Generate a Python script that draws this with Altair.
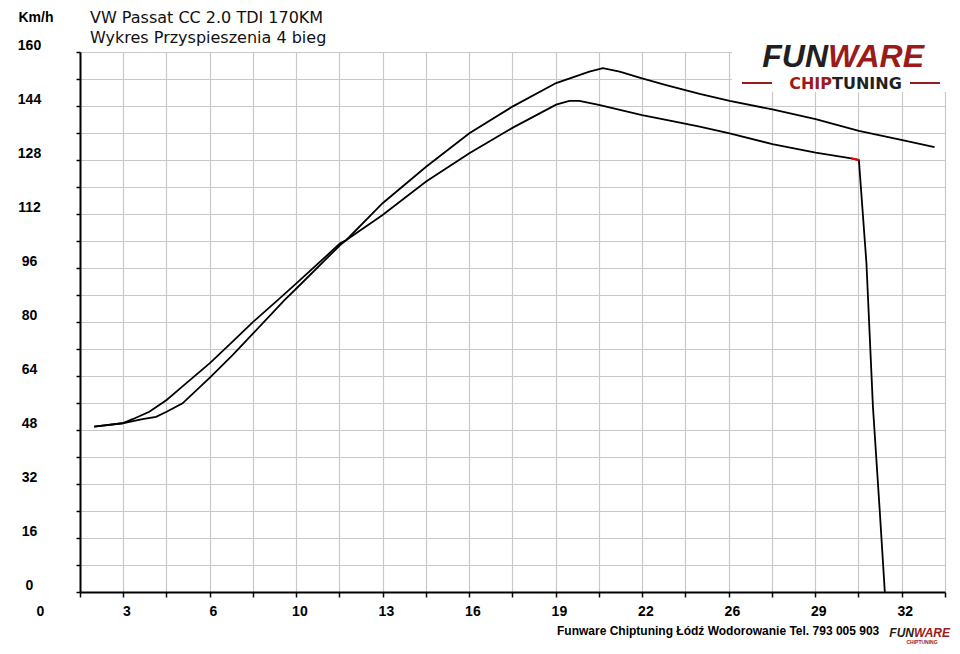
import altair as alt
import pandas as pd

# ---------------- data ----------------
# Curve A: quicker start, lower peak, ends with a drop to 0
t_a = [1.99, 3.04, 3.41, 4.03, 4.67, 5.14, 6.28, 7.11, 7.88, 8.78, 9.48, 11.09, 11.32, 12.66,
       14.27, 15.87, 17.48, 19.08, 19.57, 19.94, 20.66, 22.26, 23.15, 24.39, 25.50,
       27.08, 28.68, 30.00, 30.28, 30.56, 30.80, 31.05, 31.24]
v_a = [49.0, 50.0, 51.2, 53.4, 56.9, 60.1, 67.9, 74.2, 80.1, 86.5, 91.5, 103.3, 104.3, 111.7,
       121.6, 130.0, 137.6, 144.4, 145.5, 145.5, 144.3, 141.3, 139.9, 137.9, 135.9,
       132.7, 130.2, 128.5, 128.0, 97.4, 54.9, 24.3, 0.0]

# Curve B: slower start, higher peak
t_b = [1.99, 3.04, 3.78, 4.28, 4.67, 5.26, 6.28, 7.11, 7.88, 9.03, 9.48, 11.09, 11.32, 12.66,
       14.27, 15.87, 17.48, 19.08, 20.31, 20.81, 21.43, 22.26, 23.15, 24.39, 25.50,
       27.08, 28.68, 30.28, 31.89, 33.08]
v_b = [49.0, 50.0, 51.2, 51.9, 53.4, 55.9, 63.6, 70.2, 76.7, 86.5, 90.0, 102.8, 104.3, 115.2,
       126.0, 135.9, 143.9, 150.8, 154.2, 155.2, 154.2, 152.2, 150.2, 147.6, 145.5,
       143.0, 140.1, 136.6, 133.9, 131.8]

# short red segment at the end of curve A
t_red = [30.00, 30.28]
v_red = [128.5, 128.0]

y_ticks = [0, 8, 16, 24, 32, 40, 48, 56, 64, 72, 80, 88, 96, 104, 112, 120, 128, 136, 144, 152, 160]
x_grid = [1.466, 3.066, 4.666, 6.266, 7.866, 9.466, 11.066, 12.666, 14.266, 15.866, 17.466,
          19.066, 20.666, 22.266, 23.866, 25.466, 27.066, 28.666, 30.266, 31.866, 33.466]
x_label_pos = [0, 3.2, 6.4, 9.6, 12.8, 16.0, 19.2, 22.4, 25.6, 28.8, 32.0]
x_label_text = ["0", "3", "6", "10", "13", "16", "19", "22", "26", "29", "32"]

title_lines = ["VW Passat CC 2.0 TDI 170KM", "Wykres Przyspieszenia 4 bieg"]
y_unit = "Km/h"
footer = "Funware Chiptuning Łódź Wodorowanie Tel. 793 005 903"

# ---------------- chart ----------------
W, H = 865, 540
xscale = alt.Scale(domain=[1.466, 33.4661], nice=False, zero=False)
yscale = alt.Scale(domain=[0, 160], nice=False, zero=True)
GRID = "#c8c8c8"
LOGO_RED = "#9b1b1b"
LOGO_DARK = "#231f20"
LABEL_FONT = "Liberation Sans"

xaxis = alt.Axis(
    values=x_grid, labels=False, title=None, grid=True, gridColor=GRID, gridWidth=1.2,
    ticks=True, tickSize=5, tickColor="black", tickWidth=1.5,
    domainColor="black", domainWidth=2)
yaxis = alt.Axis(
    values=y_ticks, title=None, grid=True, gridColor=GRID, gridWidth=1.2,
    labelExpr="datum.value % 16 == 0 ? datum.label : ''",
    labelFont=LABEL_FONT, labelFontSize=14, labelFontWeight="bold", labelColor="black",
    labelAlign="center", labelBaseline="middle", labelPadding=47, labelOffset=-7,
    labelOverlap=False, labelFlush=False,
    ticks=True, tickSize=4, tickColor="black", tickWidth=1.5,
    domainColor="black", domainWidth=2)

df_lines = pd.concat([
    pd.DataFrame({"t": t_a, "v": v_a, "series": "A"}),
    pd.DataFrame({"t": t_b, "v": v_b, "series": "B"}),
])
df_red = pd.DataFrame({"t": t_red, "v": v_red})
df_xl = pd.DataFrame({"t": x_label_pos, "label": x_label_text})
one = pd.DataFrame({"k": [0]})

lines = alt.Chart(df_lines).mark_line(color="black", strokeWidth=1.8).encode(
    x=alt.X("t:Q", scale=xscale, axis=xaxis),
    y=alt.Y("v:Q", scale=yscale, axis=yaxis),
    detail="series:N",
)

red = alt.Chart(df_red).mark_line(color="#ff0000", strokeWidth=2).encode(
    x=alt.X("t:Q", scale=xscale, axis=xaxis),
    y=alt.Y("v:Q", scale=yscale, axis=yaxis),
)

xlabels = alt.Chart(df_xl).mark_text(
    font=LABEL_FONT, fontSize=14, fontWeight="bold", color="black",
    align="center", baseline="middle",
).encode(
    x=alt.X("t:Q", scale=xscale, axis=xaxis),
    y=alt.value(560),
    text="label:N",
)

logo_bg = alt.Chart(one).mark_rect(color="white").encode(
    x=alt.value(652), x2=alt.value(872), y=alt.value(-52), y2=alt.value(40)
)


def txt(s, x, y, size, color="black", weight="normal", font=LABEL_FONT,
        align="left", baseline="middle", style="normal"):
    return alt.Chart(one).mark_text(
        text=s, font=font, fontSize=size, fontWeight=weight, color=color,
        align=align, baseline=baseline, fontStyle=style,
    ).encode(x=alt.value(x), y=alt.value(y))


def rule(x1, x2, y, color, w):
    return alt.Chart(one).mark_rule(color=color, strokeWidth=w).encode(
        x=alt.value(x1), x2=alt.value(x2), y=alt.value(y))


texts = [
    txt(title_lines[0], 10, -34, 16, color="#111111", font="DejaVu Sans"),
    txt(title_lines[1], 10, -14.5, 16, color="#111111", font="DejaVu Sans"),
    txt(y_unit, -44, -34, 14, weight="bold", align="center"),
    # logo top right
    txt("FUN", 748, 14.5, 32, color=LOGO_DARK, weight="bold", style="italic",
        align="right", baseline="alphabetic"),
    txt("WARE", 748, 14.5, 32, color=LOGO_RED, weight="bold", style="italic",
        align="left", baseline="alphabetic"),
    txt("CHIP", 752, 36.5, 16, color=LOGO_RED, weight="bold", font="DejaVu Sans",
        align="right", baseline="alphabetic"),
    txt("TUNING", 752, 36.5, 16, color=LOGO_DARK, weight="bold", font="DejaVu Sans",
        align="left", baseline="alphabetic"),
    rule(662, 692, 31, LOGO_RED, 2),
    rule(830, 860, 31, LOGO_RED, 2),
    # footer
    txt(footer, 477, 579, 12, weight="bold"),
    txt("FUN", 834, 585, 12, color=LOGO_DARK, weight="bold", style="italic",
        align="right", baseline="alphabetic"),
    txt("WARE", 834, 585, 12, color=LOGO_RED, weight="bold", style="italic",
        align="left", baseline="alphabetic"),
    txt("CHIPTUNING", 842, 590, 5, color=LOGO_RED, weight="bold", align="center"),
]

chart = alt.layer(lines, red, xlabels, logo_bg, *texts).properties(
    width=W, height=H,
    autosize=alt.AutoSizeParams(type="none"),
    padding={"left": 72, "top": 44, "right": 7, "bottom": 54},
    background="white",
).configure_view(stroke="transparent")

chart.save("out.html", embed_options={"renderer": "svg", "actions": False})
